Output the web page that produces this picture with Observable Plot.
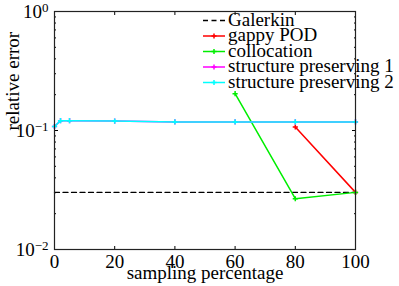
<!DOCTYPE html>
<html>
<head>
<meta charset="utf-8">
<script src="https://cdn.jsdelivr.net/npm/d3@7"></script>
<script src="https://cdn.jsdelivr.net/npm/@observablehq/plot@0.6"></script>
<style>
  html, body { margin: 0; padding: 0; background: white; }
</style>
</head>
<body>
<div id="chart"></div>
<script>
// ---- data ----
const seriesNames = ["Galerkin", "gappy POD", "collocation", "structure preserving 1", "structure preserving 2"];
const seriesColors = ["#000000", "#ff0000", "#00ee00", "#ff00ff", "#00ffff"];

const galerkinX = [0, 100];
const galerkinY = [0.0302, 0.0302];

const gappyX = [80, 100];
const gappyY = [0.107, 0.0302];

const collocX = [60, 80, 100];
const collocY = [0.204, 0.0267, 0.0302];

const sp1X = [0, 2, 5, 20, 40, 60, 80, 100];
const sp1Y = [0.108, 0.121, 0.121, 0.120, 0.118, 0.118, 0.118, 0.118];

const sp2X = [0, 2, 5, 20, 40, 60, 80, 100];
const sp2Y = [0.108, 0.121, 0.121, 0.120, 0.118, 0.118, 0.118, 0.118];

const xTicks = [0, 20, 40, 60, 80, 100];
const yMajorTicks = [0.01, 0.1, 1];
const yMajorLabels = ["10^−2", "10^−1", "10^0"];
const yMinorTicks = [0.02,0.03,0.04,0.05,0.06,0.07,0.08,0.09,0.2,0.3,0.4,0.5,0.6,0.7,0.8,0.9];
const xLabel = "sampling percentage";
const yLabel = "relative error";

// ---- build table ----
function rows(xs, ys, name) { return xs.map((x, i) => ({x, y: ys[i], name})); }
const galerkin = rows(galerkinX, galerkinY, seriesNames[0]);
const gappy = rows(gappyX, gappyY, seriesNames[1]);
const colloc = rows(collocX, collocY, seriesNames[2]);
const sp1 = rows(sp1X, sp1Y, seriesNames[3]);
const sp2 = rows(sp2X, sp2Y, seriesNames[4]);

const font = "'Liberation Serif', 'Times New Roman', serif";
const lw = 1.5;
const R = 1.8;

const chart = Plot.plot({
  width: 399,
  height: 286,
  marginLeft: 54,
  marginRight: 44,
  marginTop: 11,
  marginBottom: 37,
  style: {fontFamily: font, fontSize: "19px", background: "white", color: "black", overflow: "visible"},
  x: {domain: [0, 100]},
  y: {type: "log", domain: [0.01, 1]},
  marks: [
    // axes & ticks (inward)
    Plot.axisX({anchor: "bottom", ticks: xTicks, tickSize: -3, tickPadding: 8, tickFormat: d => String(d), label: null}),
    Plot.axisX({anchor: "top", ticks: xTicks, tickSize: -3, tickFormat: () => "", label: null}),
    Plot.axisY({anchor: "left", ticks: yMajorTicks, tickSize: -4, tickPadding: 10,
      tickFormat: d => yMajorLabels[yMajorTicks.indexOf(d)], label: null}),
    Plot.axisY({anchor: "right", ticks: yMajorTicks, tickSize: -4, tickFormat: () => "", label: null}),
    Plot.axisY({anchor: "left", ticks: yMinorTicks, tickSize: -2, tickFormat: () => "", label: null}),
    Plot.axisY({anchor: "right", ticks: yMinorTicks, tickSize: -2, tickFormat: () => "", label: null}),
    // data
    Plot.line(galerkin, {x: "x", y: "y", stroke: seriesColors[0], strokeWidth: 1.3, strokeDasharray: "5,3.5"}),
    Plot.line(gappy, {x: "x", y: "y", stroke: seriesColors[1], strokeWidth: lw}),
    Plot.dot(gappy, {x: "x", y: "y", stroke: seriesColors[1], symbol: "plus", r: R, strokeWidth: lw}),
    Plot.line(colloc, {x: "x", y: "y", stroke: seriesColors[2], strokeWidth: lw}),
    Plot.dot(colloc, {x: "x", y: "y", stroke: seriesColors[2], symbol: "plus", r: R, strokeWidth: lw}),
    Plot.line(sp1, {x: "x", y: "y", stroke: seriesColors[3], strokeWidth: lw}),
    Plot.dot(sp1, {x: "x", y: "y", stroke: seriesColors[3], symbol: "plus", r: R, strokeWidth: lw}),
    Plot.line(sp2, {x: "x", y: "y", stroke: seriesColors[4], strokeWidth: lw}),
    Plot.dot(sp2, {x: "x", y: "y", stroke: seriesColors[4], symbol: "plus", r: R, strokeWidth: lw}),
    Plot.frame({stroke: "#222", strokeWidth: 1.2}),
    // axis titles
    Plot.text([xLabel], {text: d => d, frameAnchor: "bottom", dy: 29, fontSize: 19}),
    Plot.text([yLabel], {text: d => d, frameAnchor: "left", dx: -42, rotate: -90, fontSize: 19})
  ]
});

document.getElementById("chart").appendChild(chart);

// superscripts on y tick labels
const svg = d3.select(chart);
svg.selectAll("g[aria-label='y-axis tick label'] text").each(function() {
  const t = this.textContent;
  if (!t || t.indexOf("^") < 0) return;
  const [base, exp] = t.split("^");
  const el = d3.select(this);
  el.text(null);
  el.append("tspan").text(base);
  el.append("tspan").attr("dy", "-0.45em").attr("font-size", "13px").text(exp);
});

// legend (inside, top right)
const legX1 = 203, legX2 = 225, legTextX = 228, legY0 = 20.5, legDy = 15.5;
const leg = svg.append("g").attr("font-family", font).attr("font-size", 19).attr("text-anchor", "start");
seriesNames.forEach((name, i) => {
  const y = legY0 + i * legDy;
  const line = leg.append("line").attr("x1", legX1).attr("x2", legX2).attr("y1", y).attr("y2", y)
    .attr("stroke", seriesColors[i]).attr("stroke-width", i === 0 ? 1.3 : lw);
  if (i === 0) line.attr("stroke-dasharray", "5,3.5");
  else {
    const cx = (legX1 + legX2) / 2;
    leg.append("path").attr("d", `M${cx-2.5},${y}H${cx+2.5}M${cx},${y-2.5}V${y+2.5}`)
      .attr("stroke", seriesColors[i]).attr("stroke-width", lw).attr("fill", "none");
  }
  leg.append("text").attr("x", legTextX).attr("y", y + 5).attr("text-anchor", "start").attr("fill", "black").text(name);
});
</script>
</body>
</html>
